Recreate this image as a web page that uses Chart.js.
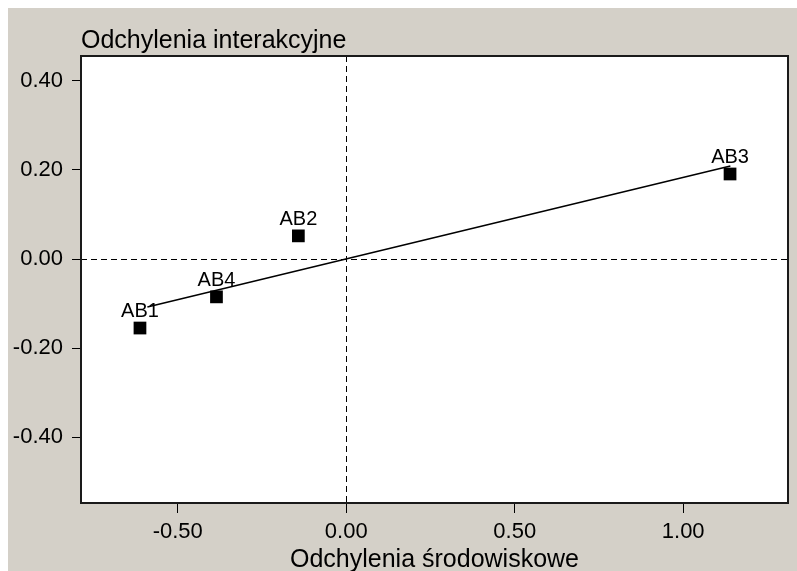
<!DOCTYPE html>
<html>
<head>
<meta charset="utf-8">
<script src="https://cdn.jsdelivr.net/npm/chart.js@4"></script>
<style>
  html, body { margin: 0; padding: 0; background: #ffffff; }
  #wrap { position: absolute; left: 8px; top: 8px; width: 789px; height: 563px; background: #D4D0C8; }
  canvas { display: block; }
</style>
</head>
<body>
<div id="wrap"><canvas id="c" width="789" height="563"></canvas></div>
<script>
// ---- data ----
const pointLabels = ['AB1', 'AB2', 'AB3', 'AB4'];
const envDeviation = [-0.612, -0.142, 1.139, -0.385];   // Odchylenia środowiskowe (x)
const intDeviation = [-0.155, 0.052, 0.191, -0.085];    // Odchylenia interakcyjne (y)
const fitLineX = [-0.59, 1.14];
const fitLineY = [-0.108, 0.209];
const xTickValues = [-0.5, 0, 0.5, 1.0];
const yTickValues = [-0.4, -0.2, 0, 0.2, 0.4];
const xTitle = 'Odchylenia środowiskowe';
const yTitle = 'Odchylenia interakcyjne';

const FONT = "'Liberation Sans', Arial, sans-serif";

const points = envDeviation.map((x, i) => ({ x: x, y: intDeviation[i] }));
const linePts = fitLineX.map((x, i) => ({ x: x, y: fitLineY[i] }));

const framePlugin = {
  id: 'frame',
  beforeDatasetsDraw(chart) {
    const { ctx, chartArea: a, scales: { x, y } } = chart;
    ctx.save();
    ctx.fillStyle = '#ffffff';
    ctx.fillRect(a.left, a.top, a.right - a.left, a.bottom - a.top);
    ctx.strokeStyle = '#000000';
    ctx.lineWidth = 1;
    ctx.setLineDash([6, 4]);
    const x0 = Math.round(x.getPixelForValue(0)) + 0.5;
    const y0 = Math.round(y.getPixelForValue(0)) + 0.5;
    ctx.beginPath();
    ctx.moveTo(x0, a.top); ctx.lineTo(x0, a.bottom);
    ctx.moveTo(a.left, y0); ctx.lineTo(a.right, y0);
    ctx.stroke();
    ctx.restore();
  },
  afterDraw(chart) {
    const { ctx, chartArea: a } = chart;
    ctx.save();
    ctx.strokeStyle = '#1a1a1a';
    ctx.lineWidth = 2;
    ctx.strokeRect(a.left, a.top, a.right - a.left, a.bottom - a.top);
    // point labels
    const meta = chart.getDatasetMeta(1);
    ctx.fillStyle = '#000000';
    ctx.font = "20px " + FONT;
    ctx.textAlign = 'center';
    ctx.textBaseline = 'alphabetic';
    meta.data.forEach((el, i) => {
      ctx.fillText(pointLabels[i], el.x, el.y - 11);
    });
    ctx.restore();
  }
};

new Chart(document.getElementById('c'), {
  type: 'scatter',
  data: {
    datasets: [
      {
        type: 'line',
        data: linePts,
        borderColor: '#000000',
        borderWidth: 1.5,
        pointRadius: 0,
        fill: false
      },
      {
        data: points,
        pointStyle: 'rect',
        pointRadius: 9,
        pointHoverRadius: 9,
        backgroundColor: '#000000',
        borderColor: '#000000',
        borderWidth: 0
      }
    ]
  },
  options: {
    responsive: false,
    animation: false,
    events: [],
    layout: { padding: { left: 0, right: 7, top: 3, bottom: 0 } },
    plugins: {
      legend: { display: false },
      tooltip: { enabled: false },
      title: {
        display: true,
        text: yTitle,
        align: 'start',
        fullSize: false,
        color: '#000000',
        font: { family: FONT, size: 25, weight: 'normal', lineHeight: 1.2 },
        padding: { top: 15, bottom: 0 }
      }
    },
    scales: {
      x: {
        type: 'linear',
        min: -0.787,
        max: 1.311,
        afterBuildTicks: (s) => { s.ticks = xTickValues.map(v => ({ value: v })); },
        afterFit: (s) => { s.height = 68; },
        grid: { display: true, drawOnChartArea: false, drawTicks: true, tickLength: 10, color: '#000000', lineWidth: 1 },
        border: { display: false },
        ticks: {
          color: '#000000',
          padding: 6,
          maxRotation: 0,
          font: { family: FONT, size: 22 },
          callback: (v) => Number(v).toFixed(2)
        },
        title: {
          display: true,
          text: xTitle,
          color: '#000000',
          font: { family: FONT, size: 25, lineHeight: 1 },
          padding: { top: 0, bottom: -2 }
        }
      },
      y: {
        type: 'linear',
        min: -0.548,
        max: 0.456,
        afterBuildTicks: (s) => { s.ticks = yTickValues.map(v => ({ value: v })); },
        afterFit: (s) => { s.width = 73; },
        grid: { display: true, drawOnChartArea: false, drawTicks: true, tickLength: 9, color: '#000000', lineWidth: 1 },
        border: { display: false },
        ticks: {
          color: '#000000',
          padding: 9,
          font: { family: FONT, size: 22 },
          callback: (v) => Number(v).toFixed(2)
        }
      }
    }
  },
  plugins: [framePlugin]
});
</script>
</body>
</html>
